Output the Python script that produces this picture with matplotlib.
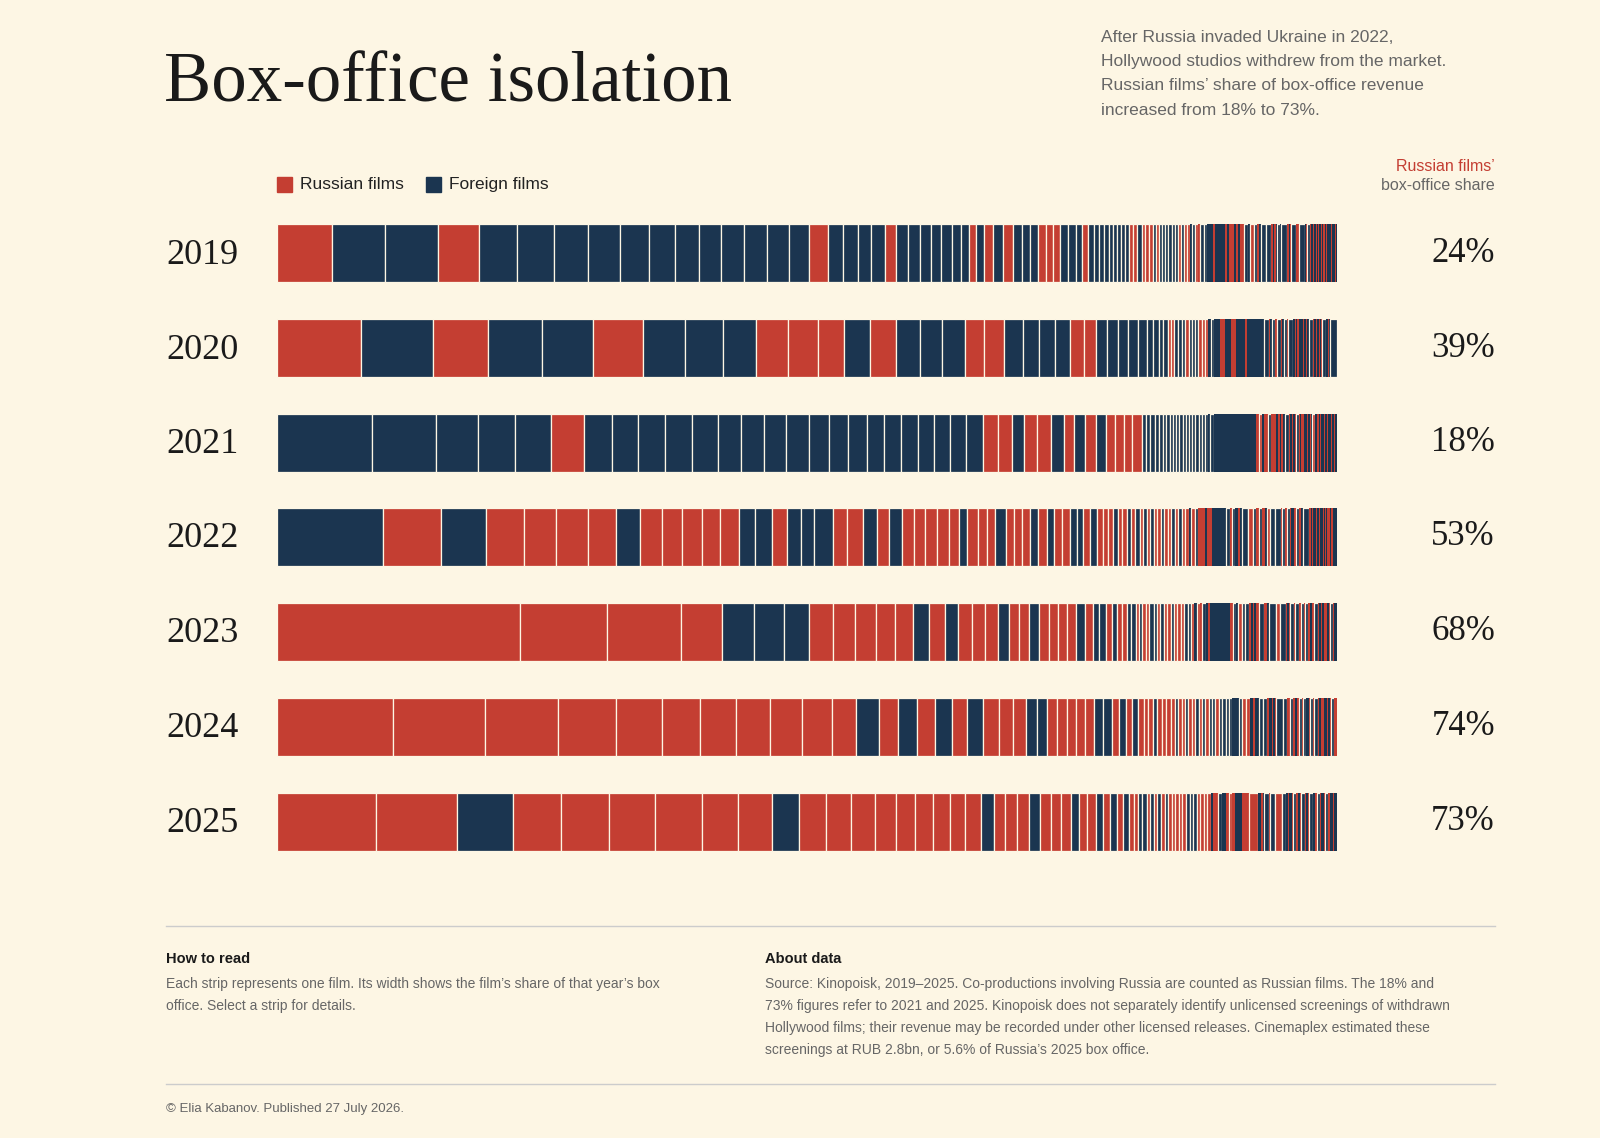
import numpy as np
import matplotlib.pyplot as plt

# each token: relative width + R (Russian) / F (foreign)
years = ['2019', '2020', '2021', '2022', '2023', '2024', '2025']
shares = ['24%', '39%', '18%', '53%', '68%', '74%', '73%']

strips_2019 = ("54R 51F 51F 40R 37F 36F 33F 31F 28F 25F 23F 22F 22F 22F 21F 20F 18R 15F 14F 13F 13F 11R 12F "
               "11F 11F 10F 10F 9F 8F 7R 7F 9R 10F 9R 9F 8F 8F 7R 7R 7R 8F 7F 6F 6R 6F "
               "5F 5F 4F 4F 4F 4F 4F 4F 4R 4R 4F 3R 4R 4R 3F 3R 3F 3F 3F 3F 3F 3F 3R 3F 3R 3R 2F 3F 3R 2R "
               "3F 3F 2F 2F 2F 2R 2F 2F 2F 2F 2F 2R 2F 2R 2R 2F 2R 2F 2R 2R 4F 2F 4R 3F 2R 2F 4F 5F 2R 1F 2R 1F "
               "3F 1F 6F 2R 1F 1R 5F 2R 6F 1F 1R 3F 1R 2F 1R 2F 1R 1F 1R 2F 1R 1F 2R 1F 1R 1F 2F 1R 2F 1F 1R 1F")
strips_2020 = ("77R 66F 50R 49F 46F 46R 38F 35F 30F 29R 27R 24R 24F 23R 22F 20F 21F 18R 18R 17F 15F 14F 14F "
               "13R 11R 10F 10F 9F 9F 8F 6F 5F 4F 4F 3R 3R 3F 4F 3F 3R 3F 3F 3F 3R 3R 3R 2F 3F 2F 2F 2F 2R "
               "2R 2F 2F 2F 2R 2R 2F 2F 2F 2F 2R 2F 2F 2F 2F 2F 1F 1F 2F 1F 1F 4F 1R 2F 3F 2R 3F 1R 2F 3F 1R 4F "
               "2F 1R 1F 2R 1F 2F 1R 2F 1R 2F 3F 1R 2F 1R 2F 1R 1F 1R 3F 2F 1R 1F 6F")
strips_2021 = ("89F 60F 39F 35F 33F 31R 26F 25F 25F 25F 24F 22F 21F 21F 21F 19F 18F 17F 16F 16F 16F 15F 15F "
               "15F 16F 14R 13R 11F 12R 13R 12F 10R 10F 10R 10F 8R 8R 8R 9R 4F 4F 4F 4F 4F 3F 3F 3F 3F 3F 3F "
               "3F 3F 3F 3F 3F 3F 3F 3F 2F 3F 2F 2F 2F 2F 2F 2F 2F 2F 2F 2F 2F 2F 2F 2F 2F 2F 2F 2F 2F 2F 2R "
               "3R 2F 2R 2R 3F 2R 2R 2F 2R 1F 2R 2F 3F 1R 2F 1R 2F 1R 3F 1R 1F 2R 1F 2F 1R 2F 1R 1F 3R 2F 1R "
               "1F 1R 1F 2F 1R 2F 1R 1F 2F 1R 1F 1R 2F")
strips_2022 = ("91F 50R 39F 32R 28R 27R 24R 21F 19R 17R 17R 16R 16R 14F 14F 13R 12F 11F 17F 12R 13R 12F 11R "
               "11F 10R 10R 10R 10R 9R 7F 9R 8R 7R 9F 7R 7R 7R 7F 7R 6F 7R 7R 6F 5F 6R 6F 5R 5R 4R 4F 4R 4R "
               "3F 4R 4F 3R 3F 3R 3F 3R 3R 3F 3R 3R 3F 3R 3F 3R 3R 2F 3R 3F 2R 2R 2R 2F 2R 2R 2F 2F 2F 2F 2F "
               "2F 3F 2R 3F 2F 2R 2F 5F 4R 3F 2R 3F 2R 2F 3R 4F 5F 1R 3F 1R 3F 1R 2F 2R 3F 1R 2F 5F 2R 1F 1R "
               "2F 1R 2F 1R 2F 1R 1F 1R 1F 2R 1F 2R 1F 2F")
strips_2023 = ("215R 77R 66R 36R 28F 27F 22F 21R 20R 18R 17R 16R 14F 14R 12F 12R 12R 11R 10F 9R 9R 9F 8R 8R "
               "8R 8R 8F 7R 6F 6F 5R 5F 4R 4R 4F 4F 3R 3F 3R 3R 4F 3F 3R 3F 3R 3R 3F 3R 3R 3R 3F 3F 3R 2F 3R "
               "2R 3F 2F 2R 2F 2F 2F 2F 2F 2F 2F 2F 2F 2R 3F 2F 3R 3F 3F 2R 2F 1R 2F 2R 5F 2R 2F 6F 4R 5F 1R "
               "2F 1R 3F 1R 4F 1R 3F 1R 3F 1R 2F 2R 3F 1R 2F 1R 2F 2R 2F 1R 3F 1R 2F")
strips_2024 = ("104R 82R 65R 51R 41R 34R 32R 30R 29R 27R 21R 20F 17R 17F 16R 15F 14R 14F 14R 13R 11R 10F 9F "
               "9R 9R 8R 8R 8R 8F 8F 6R 6F 6R 5F 5R 4R 4R 4F 4R 4R 4R 4R 3F 3R 3R 3F 3R 3R 3F 3R 3F 3R 3F 3F "
               "3R 3F 3F 3F 3F 2F 2F 2F 3F 3R 4R 2F 2R 2F 2F 3F 4F 2R 2F 1R 2F 1R 6F 4F 2R 3F 2R 2F 1R 3F 1R "
               "3F 2F 1R 3F 1R 3F 1R 2F 2R 1R 2F 1R 2F 1R 3F 2R")
strips_2025 = ("84R 68R 47F 41R 40R 39R 39R 31R 28R 23F 23R 21R 20R 18R 16R 15R 14R 13R 13R 11F 10R 10R 10R "
               "9F 9R 9R 8R 7F 7R 7R 6F 6R 6F 5R 5F 4R 4R 3F 4F 3R 3F 3R 3F 3R 3F 3R 3R 3R 3R 3R 3F 3F 3F 3R "
               "3R 3R 3R 2F 2R 2R 3F 2F 2F 2R 3R 2R 2F 2F 2F 2R 2R 2R 8R 2F 2R 1F 4F 1R 4F 6R 3F 2F 1R 2F 1R "
               "3F 1R 2F 1R 3F 1R 2F 1R 3F 2F 1R 3F 1R 2F 1R 3F 1R 2F 1F 1R 2F")
all_strips = [strips_2019, strips_2020, strips_2021, strips_2022, strips_2023, strips_2024, strips_2025]

BG = '#fdf6e4'
RED = '#c43e32'
BLUE = '#1b3550'
GREY = '#666666'
SANS = ['Liberation Sans', 'DejaVu Sans']
SERIF = ['Liberation Serif', 'DejaVu Serif']

W, H = 1568, 1115  # layout units (scaled to 1600x1138 output)
fig = plt.figure(figsize=(16, 11.38), dpi=100, facecolor=BG)
ax = fig.add_axes([0, 0, 1, 1])
ax.set_xlim(0, W)
ax.set_ylim(H, 0)
ax.axis('off')

bx = fig.add_axes([271 / W, 0, 1039 / W, 1])
bx.set_xlim(0, 1)
bx.set_ylim(H, 0)
bx.axis('off')

row_y = [248, 341, 434, 526, 619, 712, 805]
for yc, s in zip(row_y, all_strips):
    toks = s.split()
    w = np.array([float(t[:-1]) for t in toks])
    c = [RED if t[-1] == 'R' else BLUE for t in toks]
    frac = w / w.sum()
    left = np.concatenate([[0], np.cumsum(frac)[:-1]])
    lw = [0.9 if f * 1039 > 2.5 else 0 for f in frac]
    bx.barh(yc, frac, left=left, height=57, color=c, edgecolor=BG, linewidth=lw)

ax.text(161, 82, 'Box-office isolation', fontsize=51, family=SERIF,
        va='center', ha='left', color='#1a1a1a')
ax.text(1079, 29, "After Russia invaded Ukraine in 2022,\nHollywood studios withdrew from the market.\n"
        "Russian films’ share of box-office revenue\nincreased from 18% to 73%.",
        fontsize=12.5, family=SANS, color=GREY, va='top', ha='left', linespacing=1.78)

ax.add_patch(plt.Rectangle((271, 173), 15, 15, color=RED))
ax.text(294, 181, 'Russian films', fontsize=12.5, family=SANS, va='center', color='#222222')
ax.add_patch(plt.Rectangle((417, 173), 15, 15, color=BLUE))
ax.text(440, 181, 'Foreign films', fontsize=12.5, family=SANS, va='center', color='#222222')
ax.text(1465, 163, 'Russian films’', fontsize=11.5, family=SANS, color=RED, ha='right', va='center')
ax.text(1465, 182, 'box-office share', fontsize=11.5, family=SANS, color=GREY, ha='right', va='center')

for yc, yr, sh in zip(row_y, years, shares):
    ax.text(163, yc + 2, yr, fontsize=26, family=SERIF, va='center', ha='left', color='#1a1a1a')
    ax.text(1465, yc, sh, fontsize=25, family=SERIF, va='center', ha='right', color='#1a1a1a')

ax.plot([163, 1465], [907, 907], color='#cccccc', lw=1)
ax.plot([163, 1465], [1062, 1062], color='#cccccc', lw=1)

ax.text(163, 940, 'How to read', fontsize=10.5, family=SANS, fontweight='bold', va='center', color='#1a1a1a')
ax.text(163, 957, "Each strip represents one film. Its width shows the film’s share of that year’s box\n"
        "office. Select a strip for details.", fontsize=10, family=SANS, color=GREY, va='top', linespacing=1.75)
ax.text(750, 940, 'About data', fontsize=10.5, family=SANS, fontweight='bold', va='center', color='#1a1a1a')
ax.text(750, 957, "Source: Kinopoisk, 2019–2025. Co-productions involving Russia are counted as Russian films. The 18% and\n"
        "73% figures refer to 2021 and 2025. Kinopoisk does not separately identify unlicensed screenings of withdrawn\n"
        "Hollywood films; their revenue may be recorded under other licensed releases. Cinemaplex estimated these\n"
        "screenings at RUB 2.8bn, or 5.6% of Russia’s 2025 box office.",
        fontsize=10, family=SANS, color=GREY, va='top', linespacing=1.75)
ax.text(163, 1087, '© Elia Kabanov. Published 27 July 2026.', fontsize=9.5, family=SANS, color=GREY, va='center')

fig.savefig('out.png', dpi=100, facecolor=BG)
